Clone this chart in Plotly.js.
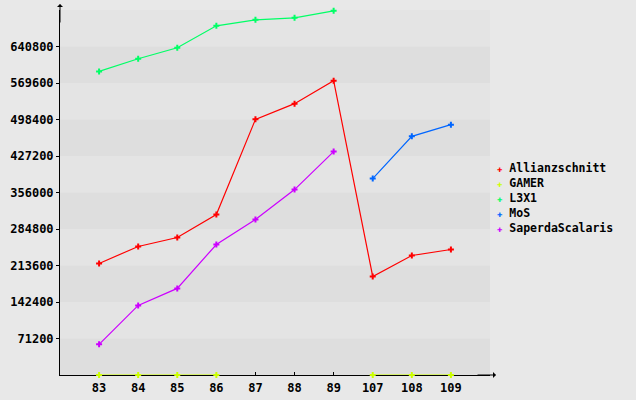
<!DOCTYPE html>
<html>
<head>
<meta charset="utf-8">
<script src="https://cdn.plot.ly/plotly-3.0.1.min.js"></script>
<style>html,body{margin:0;padding:0;background:#e8e8e8;}#chart{width:636px;height:400px;}</style>
</head>
<body>
<div id="chart"></div>
<script>
var categories = ["83","84","85","86","87","88","89","107","108","109"];
var allianzschnitt = [217600, 250700, 268200, 313000, 498700, 529300, 574000, 192200, 233100, 244800];
var gamer = [0, 0, 0, 0, null, null, null, 0, 0, 0];
var l3x1 = [592200, 616900, 638300, 681200, 692900, 696800, 710400, null, null, null];
var mos = [null, null, null, null, null, null, null, 383100, 465600, 488300];
var saperda = [59800, 135700, 168900, 254600, 303300, 361700, 435800, null, null, null];
var tickVals = [71200, 142400, 213600, 284800, 356000, 427200, 498400, 569600, 640800];

var series = [
  {name: "Allianzschnitt", y: allianzschnitt, color: "#ff0000"},
  {name: "GAMER", y: gamer, color: "#ccff00"},
  {name: "L3X1", y: l3x1, color: "#00ff66"},
  {name: "MoS", y: mos, color: "#0066ff"},
  {name: "SaperdaScalaris", y: saperda, color: "#cc00ff"}
];

var traces = series.map(function(s) {
  return {x: categories, y: s.y, type: "scatter", mode: "lines+markers", name: s.name,
    showlegend: false, line: {color: s.color, width: 1.2},
    marker: {color: s.color, symbol: "cross", size: 5, line: {width: 0}},
    connectgaps: false, cliponaxis: false};
});

var step = 71200;
var yMax = 712000;
var shapes = [];
for (var i = 0; i * step < yMax; i++) {
  shapes.push({type: "rect", xref: "paper", yref: "y", x0: 0, x1: 1,
    y0: i * step, y1: (i + 1) * step, layer: "below", line: {width: 0},
    fillcolor: (i % 2 === 0) ? "#dedede" : "#e4e4e4"});
}

var font = {family: "DejaVu Sans Mono, monospace", size: 12, color: "#000000", weight: "bold"};

var legendText = series.map(function(s) {
  return '<span style="color:' + s.color + ';font-size:9px">\u271A</span> ' + s.name;
}).join("<br>");

var layout = {
  width: 636, height: 400,
  margin: {l: 60, r: 146, t: 10, b: 25, pad: 0},
  paper_bgcolor: "#e8e8e8",
  plot_bgcolor: "#e4e4e4",
  font: font,
  showlegend: false,
  xaxis: {type: "category", range: [-1, 10], showgrid: false, zeroline: false,
    showline: true, linecolor: "#000", linewidth: 1, ticks: "inside", ticklen: 3,
    tickcolor: "#000", tickfont: font, fixedrange: true, layer: "below traces",
    ticklabelstandoff: 2},
  yaxis: {range: [0, yMax], tickvals: tickVals, ticktext: tickVals.map(String),
    showgrid: false, zeroline: false, showline: true, linecolor: "#000", linewidth: 1,
    ticks: "outside", ticklen: 3, tickcolor: "#000", tickfont: font, fixedrange: true,
    layer: "below traces"},
  shapes: shapes,
  annotations: [
    {xref: "paper", yref: "paper", x: 1 + 6 / 430, y: 0, ax: -20, ay: 0, text: "",
      showarrow: true, arrowhead: 1, arrowsize: 1, arrowwidth: 1, arrowcolor: "#000"},
    {xref: "paper", yref: "paper", x: 0, y: 1 + 6 / 365, ax: 0, ay: 20, text: "",
      showarrow: true, arrowhead: 1, arrowsize: 1, arrowwidth: 1, arrowcolor: "#000"},
    {xref: "paper", yref: "paper", x: (495 - 60) / 430, y: (375 - 198.5) / 365,
      xanchor: "left", yanchor: "middle", align: "left", showarrow: false,
      text: legendText,
      font: {family: "DejaVu Sans Mono, monospace", size: 11.5, color: "#000", weight: "bold"}}
  ]
};

Plotly.newPlot("chart", traces, layout, {displayModeBar: false, staticPlot: true});
</script>
</body>
</html>
